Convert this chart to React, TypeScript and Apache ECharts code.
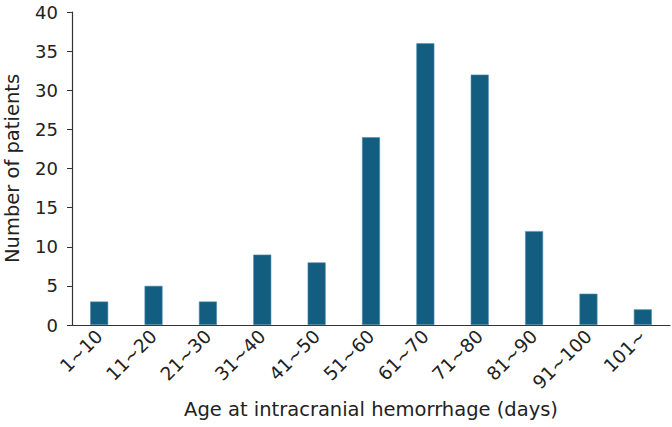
import React, { useEffect, useRef } from "react";
import * as echarts from "echarts";

const categories = ["1~10", "11~20", "21~30", "31~40", "41~50", "51~60", "61~70", "71~80", "81~90", "91~100", "101~"];
const patients = [3, 5, 3, 9, 8, 24, 36, 32, 12, 4, 2];
const yTicks = { min: 0, max: 40, interval: 5 };

export default function App() {
  const ref = useRef<HTMLDivElement>(null);
  useEffect(() => {
    const chart = echarts.init(ref.current!, null, { renderer: "svg" });
    const font = "DejaVu Sans";
    chart.setOption({
      animation: false,
      grid: { left: 72, right: 2, top: 12, bottom: 102, containLabel: false, outerBoundsMode: "none" },
      xAxis: {
        type: "category",
        data: categories,
        name: "Age at intracranial hemorrhage (days)",
        nameLocation: "middle",
        nameGap: 74,
        nameTextStyle: { fontFamily: font, fontSize: 19.5, color: "#222" },
        axisLine: { lineStyle: { color: "#333", width: 1.2 } },
        axisTick: { alignWithLabel: true, length: 5, lineStyle: { color: "#333" } },
        axisLabel: { rotate: 45, fontFamily: font, fontSize: 18.5, color: "#222", margin: 8 },
      },
      yAxis: {
        type: "value",
        min: yTicks.min,
        max: yTicks.max,
        interval: yTicks.interval,
        name: "Number of patients",
        nameLocation: "middle",
        nameGap: 50,
        nameTextStyle: { fontFamily: font, fontSize: 19.5, color: "#222" },
        splitLine: { show: false },
        axisLine: { show: true, lineStyle: { color: "#333", width: 1.2 } },
        axisTick: { show: true, length: 5, lineStyle: { color: "#333" } },
        axisLabel: { fontFamily: font, fontSize: 18, color: "#222", margin: 14 },
      },
      series: [
        {
          type: "bar",
          data: patients,
          barWidth: 18,
          itemStyle: { color: "#135d80", borderColor: "#4f8fae", borderWidth: 0.6 },
        },
      ],
    });
    return () => chart.dispose();
  }, []);
  return <div ref={ref} style={{ width: 672, height: 427, position: "absolute", left: 0, top: 0 }} />;
}
